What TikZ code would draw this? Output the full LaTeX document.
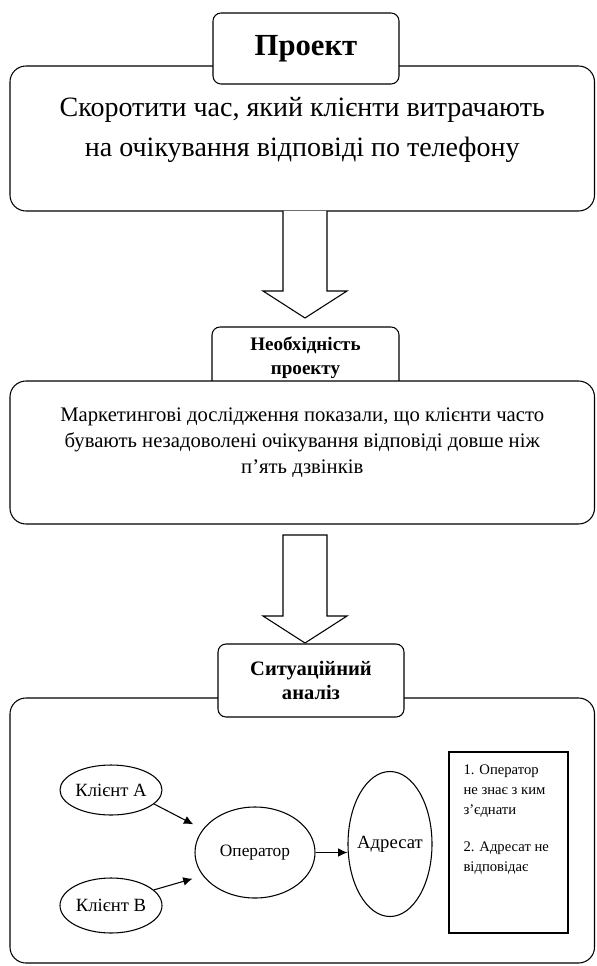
\documentclass[tikz,border=0pt]{standalone}
\usepackage{fontspec}
\setmainfont{Liberation Serif}
\usetikzlibrary{shapes, arrows, arrows.meta}

\begin{document}
\begin{tikzpicture}[x=0.75pt, y=-0.75pt, line width=0.8pt,
    body/.style={rectangle, draw, fill=white, rounded corners=12pt, minimum width=438.4pt},
    head/.style={rectangle, draw, fill=white, rounded corners=6pt, minimum width=139.5pt, align=center},
    oval/.style={ellipse, draw, inner sep=0pt, font=\fontsize{14}{16}\selectfont},
    arr/.style={-{Latex[length=7pt, width=6.5pt]}}]
    \useasboundingbox (0,0) rectangle (596,966);

    % Project
    \node (body1) [body, minimum height=108.75pt] at (302.25,138.5) {};
    \node (head1) [head, minimum height=53.25pt, font=\bfseries\fontsize{23}{27}\selectfont] at (306,48.5) {Проект};
    \node (goal) [align=center, font=\fontsize{21}{30}\selectfont] at (302.25,130) {Скоротити час, який клієнти витрачають\\на очікування відповіді по телефону};

    % big arrow 1
    \coordinate (a1) at (305,211);
    \draw[fill=white] (a1) ++(-22,0) -- ++(0,80) -- ++(-20,0) -- ++(42,27) -- ++(42,-27) -- ++(-20,0) -- ++(0,-80);

    % Need
    \node (head2) [head, minimum width=140.25pt, minimum height=46.5pt, font=\bfseries\fontsize{14.3}{18}\selectfont] at (305.5,358) {Необхідність\\проекту};
    \node (body2) [body, minimum height=107.25pt] at (302.25,452.5) {};
    \node (need) [align=center, font=\fontsize{15.5}{19.5}\selectfont] at (302.25,443) {Маркетингові дослідження показали, що клієнти часто\\бувають незадоволені очікування відповіді довше ніж\\п’ять дзвінків};

    % big arrow 2
    \coordinate (a2) at (305,535);
    \draw[fill=white] (a2) ++(-22,0) -- ++(0,81) -- ++(-20,0) -- ++(42,27) -- ++(42,-27) -- ++(-20,0) -- ++(0,-81) -- cycle;

    % Analysis
    \node (body3) [body, minimum height=198.75pt] at (302.25,830.5) {};
    \node (head3) [head, minimum height=54.75pt, font=\bfseries\fontsize{15.4}{17.5}\selectfont] at (311,680.5) {Ситуаційний\\аналіз};

    \node (clA) [oval, minimum width=76.5pt, minimum height=37.5pt] at (111,790) {Клієнт А};
    \node (clB) [oval, minimum width=76.5pt, minimum height=41.25pt] at (111,905.5) {Клієнт В};
    \node (oper) [oval, minimum width=90pt, minimum height=68.25pt, font=\fontsize{13}{15}\selectfont] at (255,852.5) {Оператор};
    \node (addr) [oval, inner xsep=-3pt, minimum width=63pt, minimum height=108.75pt] at (390,844) {Адресат};
    \node (probl) [rectangle, draw, minimum width=89.25pt, minimum height=135.75pt] at (508.5,842.5) {};
    \node (probltxt) [anchor=north west, align=left, inner sep=0pt, font=\fontsize{11}{15}\selectfont] at (463,764) {1. Оператор\\не знає з ким\\з’єднати\\[12.75pt]2. Адресат не\\відповідає};

    \draw[arr, shorten >=8pt] (clA.-18) -- (oper.156);
    \draw[arr, shorten >=8pt] (clB.20) -- (oper.-156);
    \draw[arr] (oper.east) -- (oper.east -| addr.west);
\end{tikzpicture}
\end{document}
